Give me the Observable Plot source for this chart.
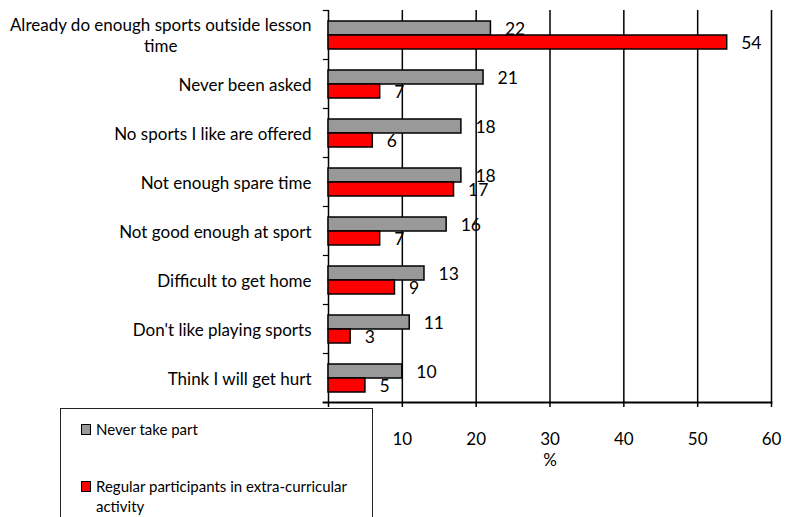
<!DOCTYPE html>
<html>
<head>
<meta charset="utf-8">
<script src="https://cdn.jsdelivr.net/npm/d3@7"></script>
<script src="https://cdn.jsdelivr.net/npm/@observablehq/plot@0.6"></script>
<style>
  html, body { margin: 0; padding: 0; background: #fff; }
  body { width: 788px; height: 517px; overflow: hidden; font-family: Lato, "DejaVu Sans", sans-serif; }
  #wrap { position: relative; width: 788px; height: 517px; }
  #legend {
    position: absolute; left: 60px; top: 408px; width: 313px; height: 130px;
    border: 1.5px solid #222; background: #fff; box-sizing: border-box;
    font-family: Lato, sans-serif; font-size: 15px; color: #000;
  }
  .item { position: absolute; left: 20px; display: flex; align-items: flex-start; }
  .sw { width: 8px; height: 9px; border: 1px solid #000; margin-right: 5px; flex: none; }
  .lbl { line-height: 20px; margin-top: -5px; width: 280px; }
</style>
</head>
<body>
<div id="wrap">
  <div id="chart"></div>
  <div id="legend"></div>
</div>
<script>
const categories = [
  "Already do enough sports outside lesson time",
  "Never been asked",
  "No sports I like are offered",
  "Not enough spare time",
  "Not good enough at sport",
  "Difficult to get home",
  "Don't like playing sports",
  "Think I will get hurt"
];
const categoryLabels = [
  "Already do enough sports outside lesson\ntime",
  "Never been asked",
  "No sports I like are offered",
  "Not enough spare time",
  "Not good enough at sport",
  "Difficult to get home",
  "Don't like playing sports",
  "Think I will get hurt"
];
const seriesNames = ["Never take part", "Regular participants in extra-curricular activity"];
const neverTakePart = [22, 21, 18, 18, 16, 13, 11, 10];
const regularParticipants = [54, 7, 6, 17, 7, 9, 3, 5];
const seriesColors = ["#999999", "#ff0000"];
const xTicks = [0, 10, 20, 30, 40, 50, 60];
const xLabel = "%";

const rows = categories.flatMap((c, i) => [
  {category: c, series: seriesNames[0], value: neverTakePart[i]},
  {category: c, series: seriesNames[1], value: regularParticipants[i]}
]);
const labelOf = new Map(categories.map((c, i) => [c, categoryLabels[i]]));

const chart = Plot.plot({
  width: 788,
  height: 517,
  marginLeft: 328,
  marginRight: 17,
  marginTop: 9,
  marginBottom: 114,
  style: {fontFamily: "Lato, sans-serif", color: "#000", background: "#fff"},
  x: {domain: [0, 60]},
  fy: {domain: categories, padding: 0},
  y: {domain: seriesNames, paddingInner: 0, paddingOuter: 0.75, axis: null},
  color: {domain: seriesNames, range: seriesColors},
  marks: [
    Plot.gridX({ticks: xTicks.slice(1), stroke: "#000", strokeOpacity: 1, strokeWidth: 1.5}),
    Plot.ruleX([0], {stroke: "#000", strokeWidth: 1.5}),
    Plot.frame({anchor: "top", insetLeft: -5, insetRight: 443, stroke: "#000", strokeWidth: 1.2}),
    Plot.frame({anchor: "bottom", facetAnchor: "bottom", insetLeft: -5, stroke: "#000", strokeWidth: 1.8}),
    Plot.barX(rows, {x: "value", y: "series", fy: "category", fill: "series", stroke: "#000", strokeWidth: 1.5}),
    Plot.text(rows, {x: "value", y: "series", fy: "category", text: "value", textAnchor: "start", dx: 14, dy: 1, fontSize: 17.5, fill: "#000"}),
    Plot.axisFy({anchor: "left", tickSize: 0, tickPadding: 17, fontSize: 17, lineHeight: 1.25, tickFormat: d => labelOf.get(d), label: null}),
    Plot.axisX({ticks: xTicks, tickSize: 5, tickPadding: 25, fontSize: 17, label: xLabel, labelAnchor: "center", labelArrow: "none", labelOffset: 63, strokeWidth: 1.5})
  ]
});
document.getElementById("chart").appendChild(chart);

// center multi-line category labels within their block (as in the original)
chart.querySelectorAll("text").forEach(t => {
  const spans = t.querySelectorAll("tspan");
  if (spans.length > 1 && (t.getAttribute("text-anchor") === "end" || getComputedStyle(t).textAnchor === "end")) {
    let w = 0;
    spans.forEach(s => { w = Math.max(w, s.getComputedTextLength()); });
    t.setAttribute("text-anchor", "middle");
    t.style.textAnchor = "middle";
    spans.forEach(s => s.setAttribute("x", -w / 2));
  }
});

// legend
const legend = d3.select("#legend");
const tops = [15, 72];
seriesNames.forEach((s, i) => {
  const it = legend.append("div").attr("class", "item").style("top", tops[i] + "px");
  it.append("div").attr("class", "sw").style("background", seriesColors[i]);
  it.append("div").attr("class", "lbl").text(i === 1 ? "Regular participants in extra-curricular" : s)
    .call(el => { if (i === 1) el.append("br"), el.append("span").text("activity"); });
});
</script>
</body>
</html>
